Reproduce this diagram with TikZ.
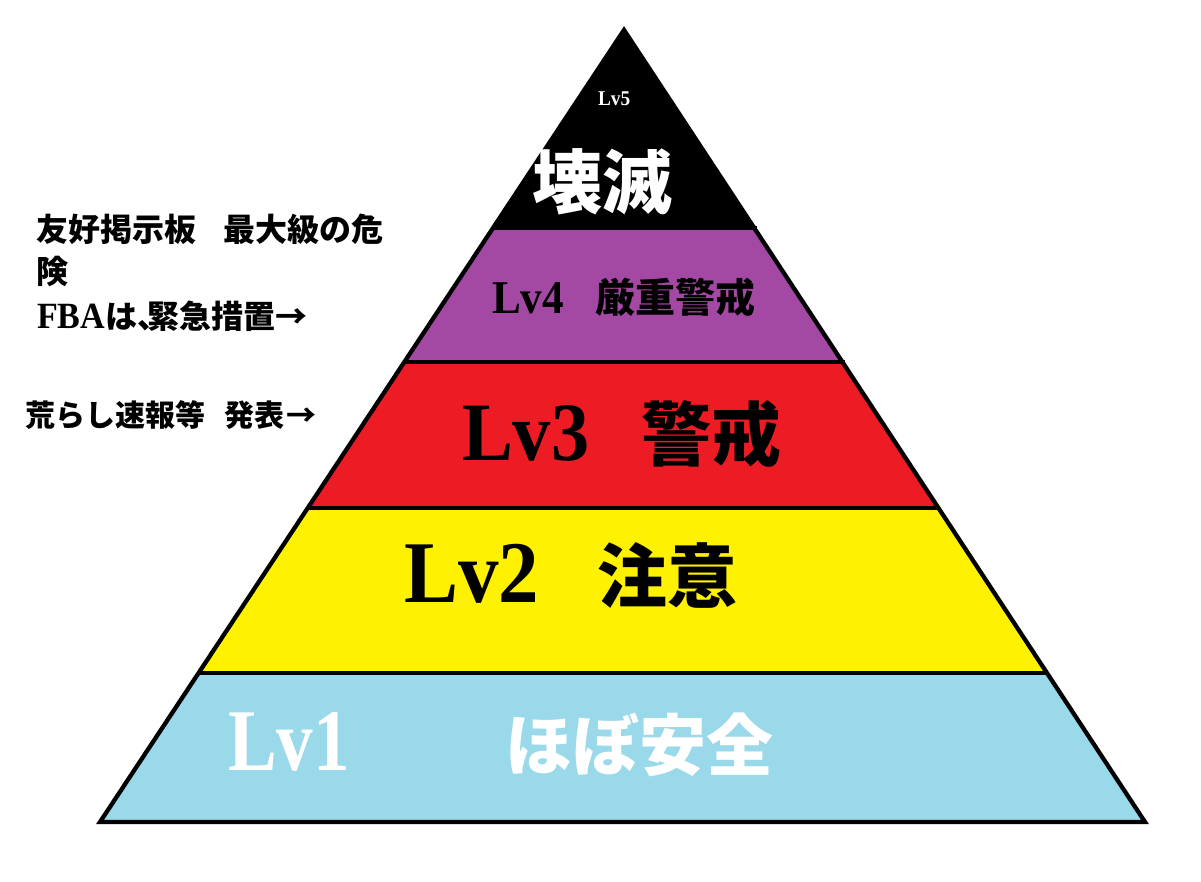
\documentclass[tikz,border=0pt]{standalone}
\usepackage{fontspec}
\newfontfamily\jp{Noto Sans CJK JP}
\newfontfamily\lat{Liberation Serif}[FakeStretch=0.92]
\newfontfamily\latn{Liberation Serif}[FakeStretch=0.83]
\usetikzlibrary{calc}
\definecolor{pPurple}{HTML}{A349A4}
\definecolor{pRed}{HTML}{ED1C24}
\definecolor{pYellow}{HTML}{FFF200}
\definecolor{pBlue}{HTML}{99D9EA}
\tikzset{
  lab/.style={inner sep=0pt, outer sep=0pt, anchor=base west},
  edge/.style={line width=4.3pt, line join=miter, draw=black},
  jpf/.style={font={\jp\bfseries\fontsize{#1}{#1}\selectfont}},
  latf/.style={font={\lat\bfseries\fontsize{#1}{#1}\selectfont}},
  latnf/.style={font={\latn\bfseries\fontsize{#1}{#1}\selectfont}}
}
\begin{document}
\begin{tikzpicture}[x=1pt,y=-1pt]
\useasboundingbox (0,0) rectangle (1201,881);
\fill[white] (0,0) rectangle (1201,881);
% pyramid geometry
\coordinate (A) at (624,30);
\coordinate (BL) at (100,822);
\coordinate (BR) at (1145,822);
\coordinate (L1) at ($(A)!0.25!(BL)$);
\coordinate (R1) at ($(A)!0.25!(BR)$);
\coordinate (L2) at ($(A)!0.4192!(BL)$);
\coordinate (R2) at ($(A)!0.4192!(BR)$);
\coordinate (L3) at ($(A)!0.6035!(BL)$);
\coordinate (R3) at ($(A)!0.6035!(BR)$);
\coordinate (L4) at ($(A)!0.8119!(BL)$);
\coordinate (R4) at ($(A)!0.8119!(BR)$);
% bands
\fill[black] (A) -- (L1) -- (R1) -- cycle;
\fill[pPurple] (L1) -- (L2) -- (R2) -- (R1) -- cycle;
\fill[pRed] (L2) -- (L3) -- (R3) -- (R2) -- cycle;
\fill[pYellow] (L3) -- (L4) -- (R4) -- (R3) -- cycle;
\fill[pBlue] (L4) -- (BL) -- (BR) -- (R4) -- cycle;
% outlines
\draw[edge] (L1) -- ([xshift=3pt]R1);
\draw[edge] (L2) -- ([xshift=3pt]R2);
\draw[edge] (L3) -- (R3);
\draw[edge] (L4) -- (R4);
\draw[edge] (A) -- (BL) -- (BR) -- cycle;
% level labels
\node[lab, text=white, latf=21] (lv5) at (598,105) {Lv5};
\node[lab, text=white, jpf=70] (t5) at (532,208) {壊滅};
\node[lab, latf=47] (lv4) at (492,313) {Lv4};
\node[lab, jpf=40] (t4) at (595,312) {厳重警戒};
\node[lab, latf=83] (lv3) at (462,460) {Lv3};
\node[lab, jpf=70] (t3) at (641,460) {警戒};
\node[lab, latf=88] (lv2) at (404,602) {Lv2};
\node[lab, jpf=70] (t2) at (597,602) {注意};
\node[lab, text=white, latnf=88] (lv1) at (228,770) {Lv1};
\node[lab, text=white, jpf=67] (t1) at (505,770) {ほぼ安全};
% side notes
\node[lab, jpf=32] (n1) at (36.5,241) {友好掲示板\hspace{27pt}最大級の危};
\node[lab, jpf=32] (n2) at (36.5,283) {険};
\node[lab, jpf=32] (n3) at (37,328) {{\lat\bfseries\fontsize{37}{37}\selectfont FBA}は、\kern-22pt 緊急措置→};
\node[lab, jpf=30] (n4) at (25,426) {荒らし速報等\hspace{20pt}発表\kern2pt→};
\end{tikzpicture}
\end{document}
